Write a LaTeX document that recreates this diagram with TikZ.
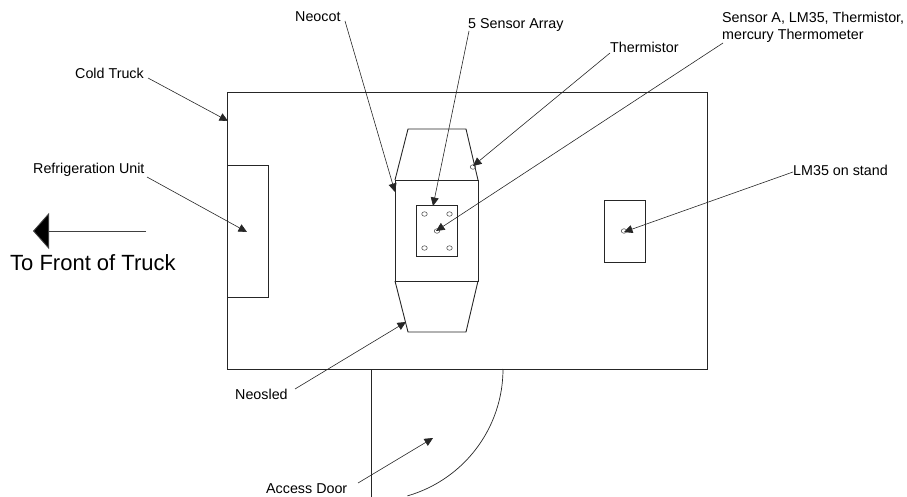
\documentclass[tikz,border=0pt]{standalone}
\usepackage{fontspec}
\setmainfont{Liberation Sans}
\usetikzlibrary{arrows.meta,shapes.geometric}
\tikzset{
  body/.style={draw=black!85,line width=0.9pt,inner sep=0pt,outer sep=0pt,fill=none},
  hole/.style={draw=black!70,line width=0.6pt,ellipse,inner sep=0pt,minimum width=5.5pt,minimum height=4.5pt},
  leader/.style={draw=black!85,line width=0.6pt,-{Triangle[length=8.5pt,width=8pt]}},
  lab/.style={anchor=west,inner sep=0pt,font=\fontsize{14.3}{16}\selectfont,text=black},
}
\begin{document}
\begin{tikzpicture}[x=1pt,y=-1pt]
\useasboundingbox (0,0) rectangle (907,497);
% bodies
\node[body,minimum width=480pt,minimum height=277pt] (truck) at (467,230.5) {};
\node[body,minimum width=41pt,minimum height=132pt] (fridge) at (247.5,231) {};
\node[body,minimum width=83pt,minimum height=101pt] (cot) at (436.5,230.5) {};
\node[body,minimum width=41pt,minimum height=51pt] (board) at (436.5,230.5) {};
\node[body,minimum width=41pt,minimum height=62pt] (stand) at (624.5,231) {};
\draw[body] (cot.north west) -- (408,129) -- (466,129) -- (cot.north east);
\draw[body] (cot.south west) -- (408,332) -- (466,332) -- (cot.south east);
% sensors
\node[hole] (s1) at (424.5,214) {};
\node[hole] (s2) at (449.5,214) {};
\node[hole] (s3) at (424.5,248) {};
\node[hole] (s4) at (449.5,248) {};
\node[hole] (s5) at (437,231) {};
\node[hole] (therm) at (473,167) {};
\node[hole] (lm) at (624,231) {};
% door
\coordinate (doorA) at (371,369);
\coordinate (doorB) at (371,497);
\draw[body] (doorA) -- (doorB);
\draw[draw=black!85,line width=0.7pt] plot[domain=0:74,samples=50,smooth] ({371+132*cos(\x)},{369+132*sin(\x)});
% labels
\node[lab] (lcold) at (75,73) {Cold Truck};
\node[lab] (lneocot) at (295,16.5) {Neocot};
\node[lab] (lfive) at (468,25) {5 Sensor Array};
\node[lab] (lther) at (610,47) {Thermistor};
\node[lab] (lsensA) at (722,18.5) {Sensor A, LM35, Thermistor,};
\node[lab] (lsensB) at (722,36) {mercury Thermometer};
\node[lab] (lfridge) at (33,170) {Refrigeration Unit};
\node[lab] (lstand) at (793,170) {LM35 on stand};
\node[lab] (lsled) at (235,394) {Neosled};
\node[lab] (ldoor) at (266,489) {Access Door};
\node[lab,font=\fontsize{22}{24}\selectfont] (lfront) at (10,263) {To Front of Truck};
% leader ends
\coordinate (a1) at (148,78);   \coordinate (b1) at (228,121);
\coordinate (a2) at (147,177);  \coordinate (b2) at (247,232);
\coordinate (a3) at (345,21);   \coordinate (b3) at (395,192);
\coordinate (a4) at (469,31);   \coordinate (b4) at (433,206);
\coordinate (a5) at (610,53);   \coordinate (b5) at (473,166);
\coordinate (a6) at (723,43);   \coordinate (b6) at (436,231);
\coordinate (a7) at (793,172);  \coordinate (b7) at (624,232);
\coordinate (a8) at (295,389);  \coordinate (b8) at (406,322);
\coordinate (a9) at (358,483);  \coordinate (b9) at (433,438);
\draw[leader] (a1) -- (b1);
\draw[leader] (a2) -- (b2);
\draw[leader] (a3) -- (b3);
\draw[leader] (a4) -- (b4);
\draw[leader] (a5) -- (b5);
\draw[leader] (a6) -- (b6);
\draw[leader] (a7) -- (b7);
\draw[leader] (a8) -- (b8);
\draw[leader] (a9) -- (b9);
% front arrow
\coordinate (fA) at (146,231);
\coordinate (fB) at (33,231);
\draw[draw=black!75,line width=0.9pt,-{Triangle[length=16pt,width=36pt,fill=black]}] (fA) -- (fB);
\end{tikzpicture}
\end{document}
